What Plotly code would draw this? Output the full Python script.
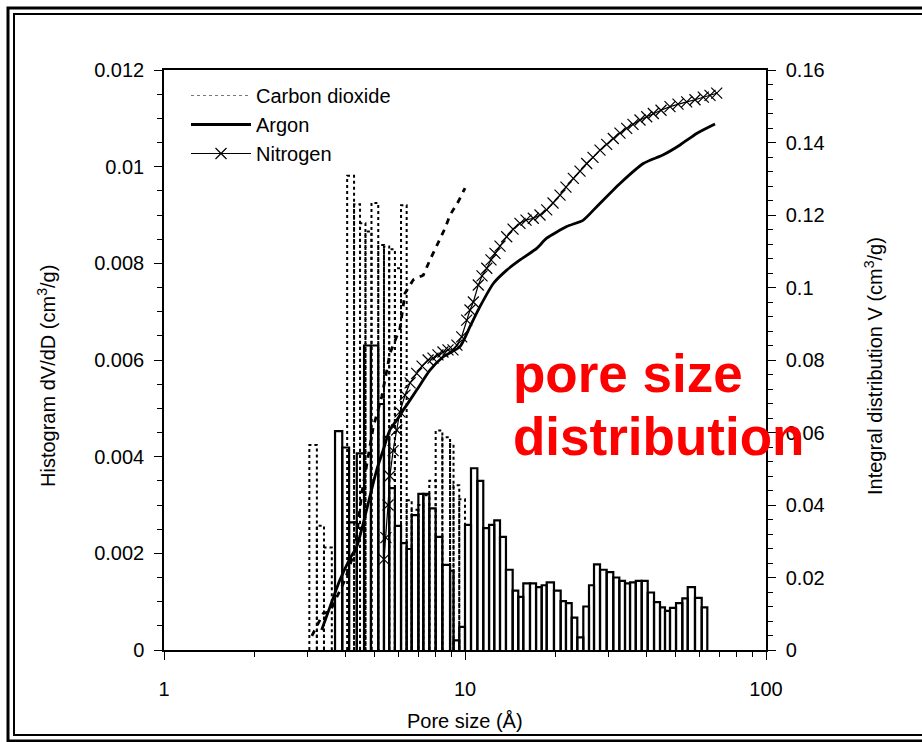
import plotly.graph_objects as go

# ---------------- data ----------------
# Argon histogram: bin edges (Å) and dV/dD (cm3/g per Å)
ar_edges = [3.70, 3.91, 4.12, 4.37, 4.62, 4.87, 5.15, 5.38, 5.60, 5.85, 6.13, 6.40,
            6.65, 7.00, 7.27, 7.61, 7.99, 8.41, 8.92, 9.16, 9.57, 10.0,
            10.47, 10.99, 11.50, 12.02, 12.51, 13.07, 13.68, 14.40, 15.03, 15.62,
            16.44, 17.22, 17.98, 18.68, 19.75, 20.79, 21.65, 22.62, 23.61, 24.72,
            25.82, 26.83, 28.09, 29.56, 31.09, 32.56, 34.01, 35.34, 36.92, 38.64,
            40.46, 42.46, 44.45, 46.18, 47.98, 50.24, 52.72, 54.95, 58.09, 61.15,
            63.83]
ar_hist = [0.00453, 0.00419, 0.00264, 0.00407, 0.00630, 0.00630, 0.00509, 0.00441,
           0.00335, 0.00257, 0.00221, 0.00209, 0.00279, 0.00323, 0.00323, 0.00293,
           0.00234, 0.00176, 0.00164, 0.00020, 0.00048,
           0.00259, 0.00376, 0.00350, 0.00252, 0.00259, 0.00268, 0.00234, 0.00166,
           0.00123, 0.00110, 0.00138, 0.00138, 0.00130, 0.00134, 0.00140, 0.00123,
           0.00101, 0.00097, 0.00067, 0.00026, 0.00090, 0.00134, 0.00177, 0.00166,
           0.00161, 0.00150, 0.00143, 0.00138, 0.00140, 0.00143, 0.00143, 0.00119,
           0.00099, 0.00088, 0.00081, 0.00087, 0.00097, 0.00107, 0.00130, 0.00108,
           0.00088]

# Carbon dioxide histogram
co2_edges = [3.04, 3.22, 3.40, 3.61, 3.83, 4.06, 4.28, 4.48, 4.67, 4.89, 5.15, 5.38,
             5.60, 5.85, 6.13, 6.40, 6.65, 7.00, 7.27, 7.61, 7.99, 8.41, 8.92, 9.16,
             9.57, 10.0]
co2_hist = [0.00424, 0.00257, 0.00212, 0.0, 0.0, 0.00981, 0.00922, 0.00883, 0.00866,
            0.00925, 0.00838, 0.00835, 0.00829, 0.00790, 0.00920, 0.00310, 0.00290,
            0.00300, 0.00320, 0.00350, 0.00454, 0.00440, 0.00426, 0.00341, 0.00312]

# Integral distributions V (cm3/g)
co2_cum_d = [3.10, 3.38, 3.56, 3.84, 3.99, 4.31, 4.54, 4.96, 5.29, 5.50, 5.63, 6.08,
             6.32, 6.73, 7.27, 7.65, 8.15, 8.58, 8.92, 9.50, 10.0]
co2_cum_v = [0.0039, 0.0101, 0.0106, 0.0161, 0.0193, 0.0276, 0.0432, 0.0616, 0.0699,
             0.0772, 0.0818, 0.0887, 0.0984, 0.1021, 0.1034, 0.1076, 0.1126, 0.1163,
             0.1200, 0.1237, 0.1274]

ar_cum_d = [3.34, 3.56, 3.84, 4.15, 4.37, 4.59, 4.83, 5.09, 5.35, 5.63, 5.93, 6.24,
            6.91, 7.65, 8.47, 9.62, 10.39, 11.21, 12.42, 13.76, 15.23, 17.31, 18.68,
            21.77, 24.72, 27.39, 32.73, 39.12, 45.60, 51.80, 58.85, 67.70]
ar_cum_v = [0.0055, 0.0119, 0.0193, 0.0253, 0.0285, 0.0349, 0.0423, 0.0497, 0.0552,
            0.0607, 0.0634, 0.0662, 0.0717, 0.0772, 0.0809, 0.0837, 0.0892, 0.0947,
            0.1011, 0.1048, 0.1076, 0.1108, 0.1136, 0.1168, 0.1186, 0.1223, 0.1287,
            0.1342, 0.1366, 0.1393, 0.1425, 0.1451]

n2_cum_d = [5.38, 5.46, 5.55, 5.63, 5.77, 5.93, 6.08, 6.32, 6.57, 6.91, 7.20, 7.54,
            7.83, 8.13, 8.45, 8.78, 9.12, 9.40, 9.75, 10.13, 10.39, 10.66, 11.07,
            11.39, 11.81, 12.20, 12.58, 13.07, 13.76, 14.44, 15.23, 15.95, 16.86,
            17.75, 18.68, 19.61, 20.69, 21.65, 22.90, 24.10, 25.37, 26.62, 28.09,
            29.56, 31.09, 32.73, 34.45, 36.15, 38.14, 40.15, 42.23, 44.80, 47.98,
            51.01, 54.52, 58.09, 61.90, 65.16, 68.59]
n2_cum_v = [0.0250, 0.0310, 0.0400, 0.0480, 0.0550, 0.0607, 0.0657, 0.0703, 0.0737,
            0.0763, 0.0783, 0.0800, 0.0805, 0.0814, 0.0822, 0.0828, 0.0828, 0.0841,
            0.0864, 0.0910, 0.0938, 0.0960, 0.1007, 0.1032, 0.1053, 0.1076, 0.1094,
            0.1114, 0.1140, 0.1161, 0.1177, 0.1186, 0.1191, 0.1200, 0.1214, 0.1233,
            0.1255, 0.1277, 0.1301, 0.1321, 0.1342, 0.1359, 0.1379, 0.1395, 0.1411,
            0.1426, 0.1439, 0.1450, 0.1462, 0.1471, 0.1480, 0.1489, 0.1499, 0.1506,
            0.1512, 0.1518, 0.1525, 0.1530, 0.1536]

x_ticks = [1, 10, 100]
x_minor = [2, 3, 4, 5, 6, 7, 8, 9, 20, 30, 40, 50, 60, 70, 80, 90]
y1_ticks = [0, 0.002, 0.004, 0.006, 0.008, 0.01, 0.012]
y1_labels = ["0", "0.002", "0.004", "0.006", "0.008", "0.01", "0.012"]
y2_ticks = [0, 0.02, 0.04, 0.06, 0.08, 0.1, 0.12, 0.14, 0.16]
y2_labels = ["0", "0.02", "0.04", "0.06", "0.08", "0.1", "0.12", "0.14", "0.16"]


def bar_outline(edges, heights):
    """Open rectangles (left side, top, right side) for each histogram bin."""
    xs, ys = [], []
    for a, b, h in zip(edges[:-1], edges[1:], heights):
        if h <= 0:
            continue
        xs += [a, a, b, b, None]
        ys += [0, h, h, 0, None]
    return xs, ys


FONT = "Liberation Sans, Arial, sans-serif"
W, H = 922, 742
L, R, T, B = 164, 156, 70, 92
PW, PH = W - L - R, H - T - B


def px(x):
    return (x - L) / PW


def py(y):
    return (H - B - y) / PH


fig = go.Figure()

ax, ay = bar_outline(ar_edges, ar_hist)
fig.add_trace(go.Scatter(x=ax, y=ay, mode="lines", line=dict(color="black", width=2.2),
                         showlegend=False, hoverinfo="skip", yaxis="y"))

cx, cy = bar_outline(co2_edges, co2_hist)
fig.add_trace(go.Scatter(x=cx, y=cy, mode="lines",
                         line=dict(color="black", width=2, dash="dot"),
                         showlegend=False, hoverinfo="skip", yaxis="y"))

# legend sample for the carbon dioxide series
fig.add_trace(go.Scatter(x=[None], y=[None], mode="lines", name="Carbon dioxide",
                         line=dict(color="#777777", width=1, dash="dot"), yaxis="y2"))

fig.add_trace(go.Scatter(x=co2_cum_d, y=co2_cum_v, mode="lines",
                         line=dict(color="black", width=2.8, dash="6px,6px"),
                         showlegend=False, yaxis="y2"))
fig.add_trace(go.Scatter(x=ar_cum_d, y=ar_cum_v, mode="lines", name="Argon",
                         line=dict(color="black", width=2.8, shape="spline", smoothing=0.6),
                         yaxis="y2"))
fig.add_trace(go.Scatter(x=n2_cum_d, y=n2_cum_v, mode="lines+markers", name="Nitrogen",
                         line=dict(color="black", width=1.2),
                         marker=dict(symbol="x-thin", size=11,
                                     line=dict(color="black", width=1.2)),
                         yaxis="y2"))

axis_common = dict(showline=True, linecolor="black", linewidth=1.5, ticks="outside",
                   tickcolor="black", tickwidth=1.3, ticklen=8, showgrid=False,
                   zeroline=False, tickfont=dict(family=FONT, size=20, color="black"))

fig.update_layout(
    width=W, height=H,
    margin=dict(l=L, r=R, t=T, b=B),
    paper_bgcolor="white", plot_bgcolor="white",
    font=dict(family=FONT, size=20, color="black"),
    xaxis=dict(type="log", range=[0, 2], tickvals=x_ticks, ticktext=["1", "10", "100"],
               minor=dict(tickvals=x_minor, ticks="outside", ticklen=5, tickcolor="black",
                          tickwidth=1.3),
               mirror=True, ticklabelstandoff=12, **axis_common),
    yaxis=dict(range=[0, 0.012], tickvals=y1_ticks, ticktext=y1_labels,
               minor=dict(dtick=0.0005, ticks="outside", ticklen=5, tickcolor="black",
                          tickwidth=1.3),
               ticklabelstandoff=6, **axis_common),
    yaxis2=dict(range=[0, 0.16], tickvals=y2_ticks, ticktext=y2_labels, overlaying="y",
                side="right",
                minor=dict(dtick=0.004, ticks="outside", ticklen=5, tickcolor="black",
                           tickwidth=1.3),
                ticklabelstandoff=6, **axis_common),
    legend=dict(x=px(186), y=py(76), xanchor="left", yanchor="top",
                bgcolor="rgba(0,0,0,0)", itemwidth=60, tracegroupgap=4,
                font=dict(family=FONT, size=20, color="black")),
    showlegend=True,
)

annotations = [
    dict(text="Histogram dV/dD (cm<sup>3</sup>/g)", x=px(46), y=py(376), textangle=-90,
         font=dict(family=FONT, size=20)),
    dict(text="Integral distribution V (cm<sup>3</sup>/g)", x=px(873), y=py(366),
         textangle=-90, font=dict(family=FONT, size=20)),
    dict(text="Pore size (Å)", x=px(465), y=py(721), font=dict(family=FONT, size=20)),
    dict(text="<b>pore size</b>", x=px(511), y=py(374), xanchor="left",
         font=dict(family=FONT, size=53, color="#ff0000")),
    dict(text="<b>distribution</b>", x=px(511), y=py(436), xanchor="left",
         font=dict(family=FONT, size=53, color="#ff0000")),
]
for a in annotations:
    a.setdefault("xanchor", "center")
    a.update(xref="paper", yref="paper", yanchor="middle", showarrow=False)
fig.update_layout(annotations=annotations)

# double page frame
shapes = [
    dict(type="rect", x0=px(8), x1=px(940), y0=py(8), y1=py(741),
         line=dict(color="black", width=3)),
    dict(type="rect", x0=px(14), x1=px(940), y0=py(14), y1=py(735),
         line=dict(color="black", width=2)),
]
for s in shapes:
    s.update(xref="paper", yref="paper", layer="above")
fig.update_layout(shapes=shapes)

fig.write_html("out.html")
